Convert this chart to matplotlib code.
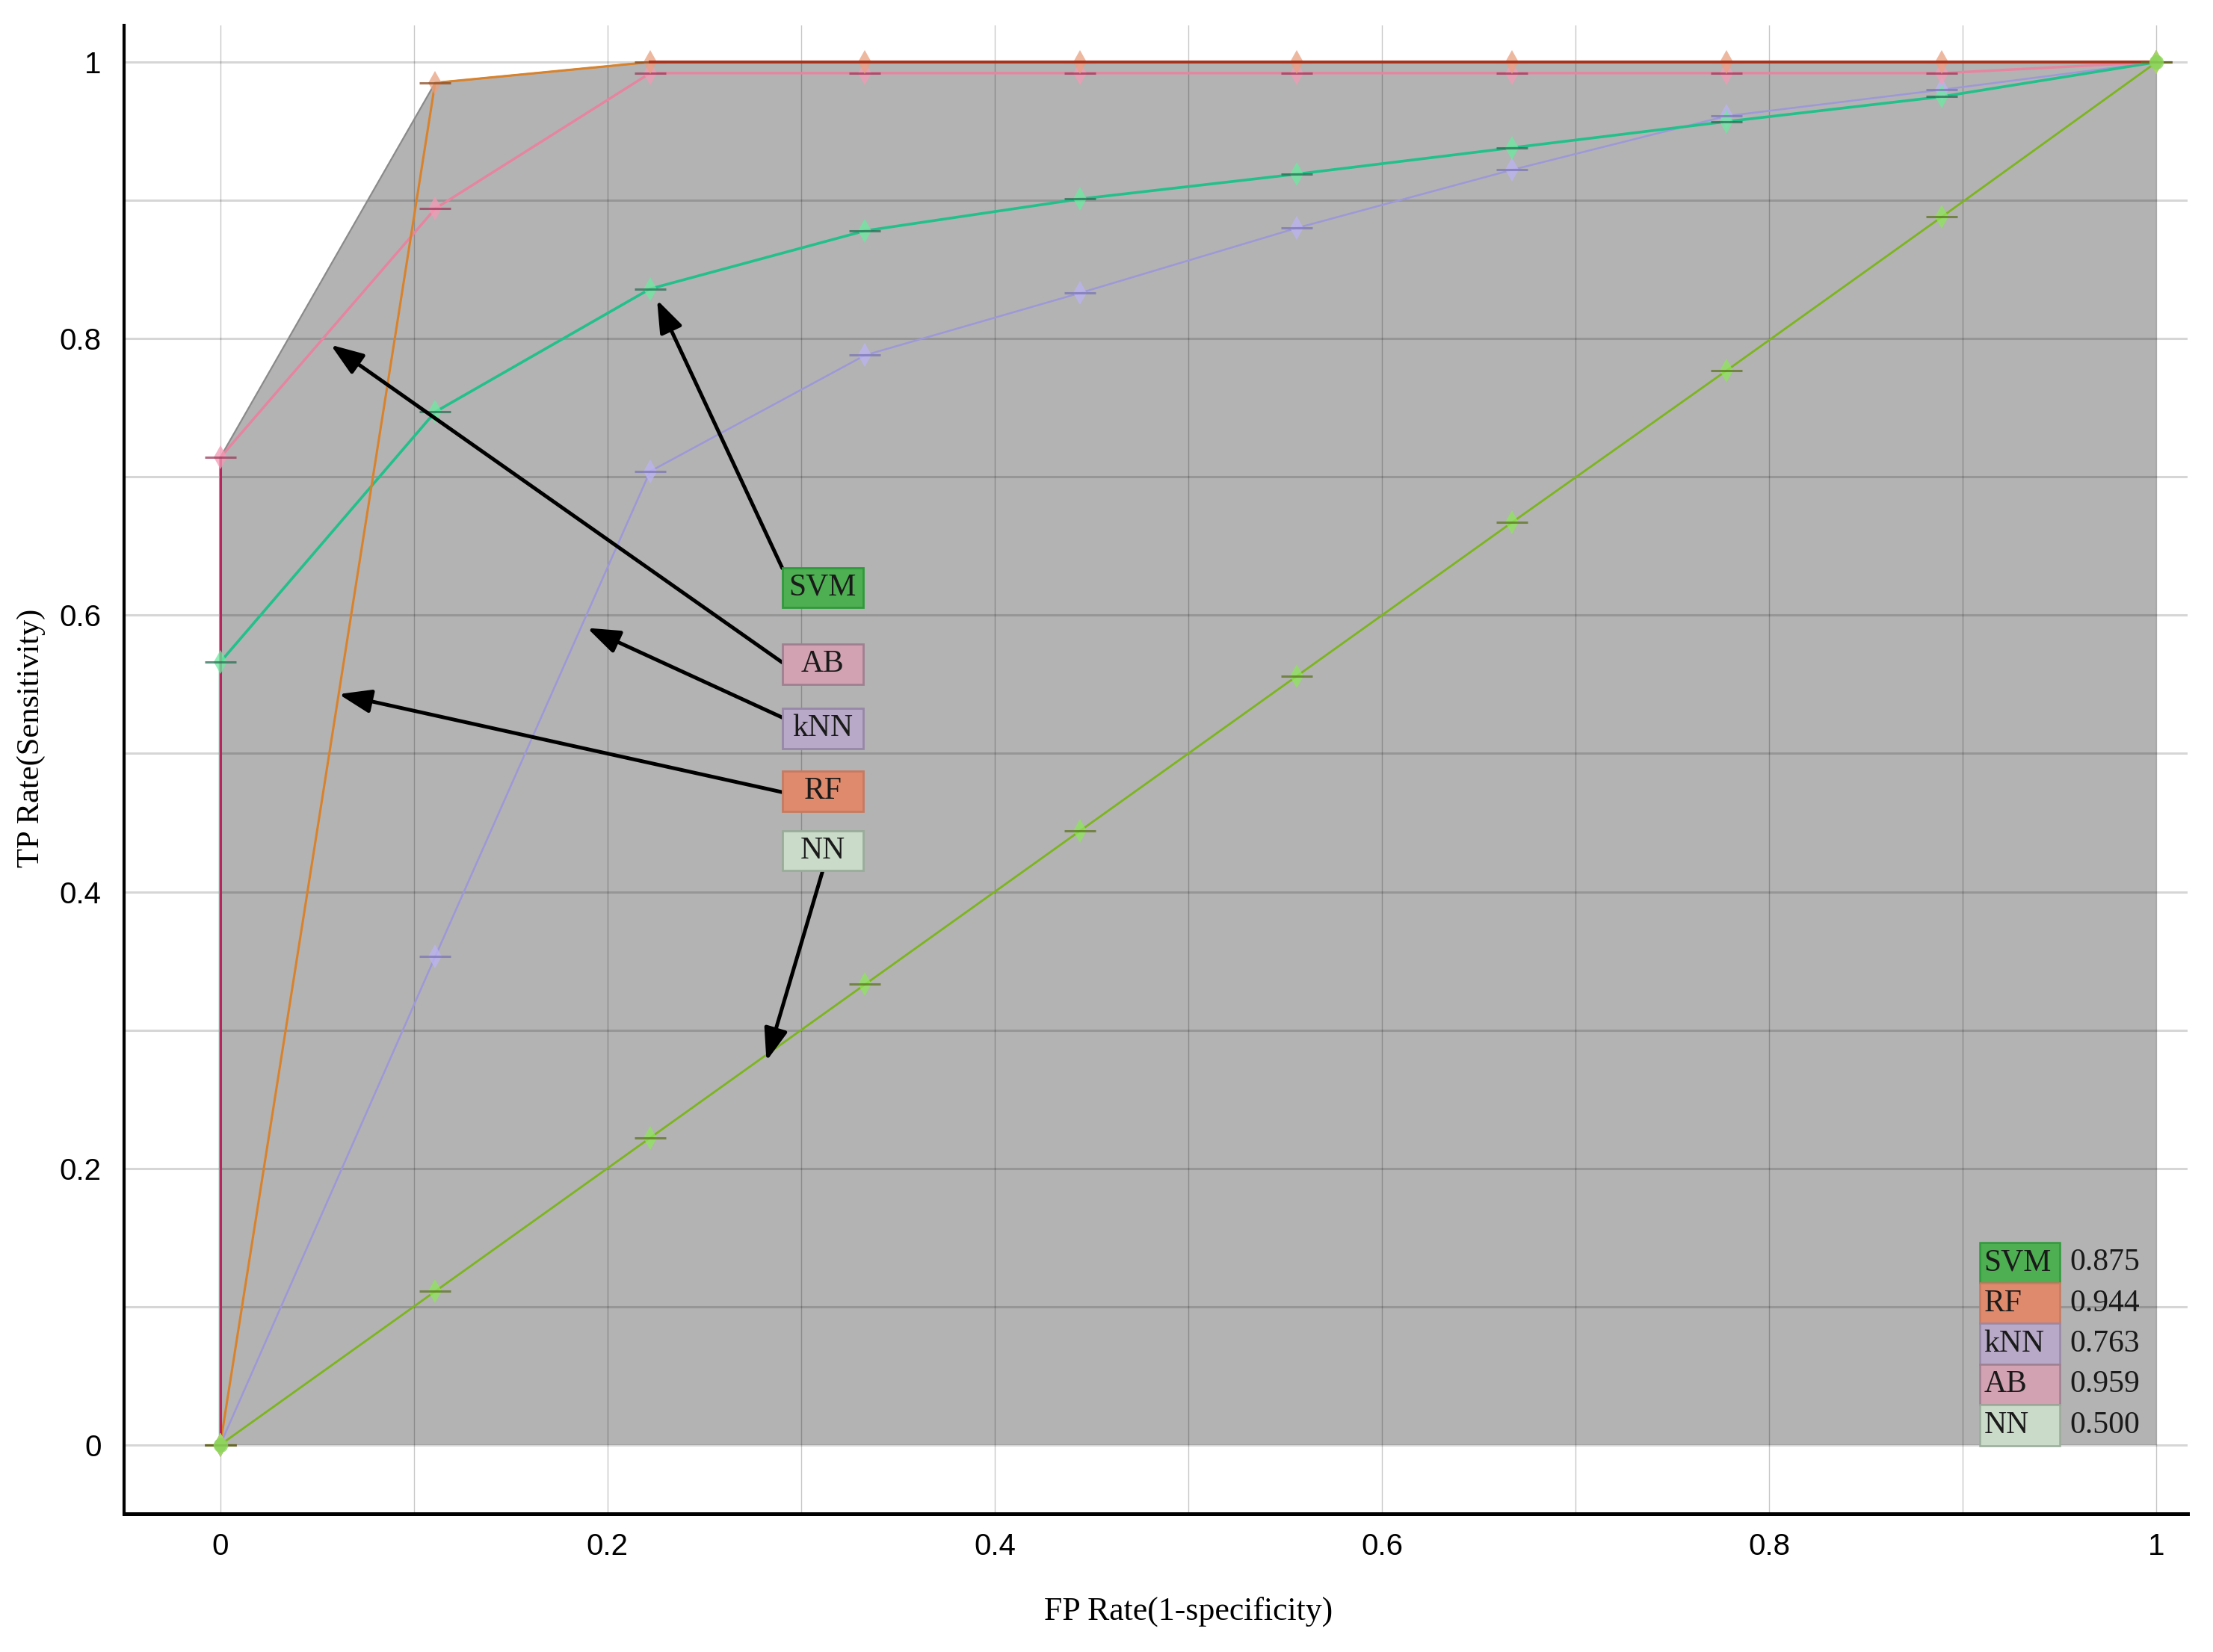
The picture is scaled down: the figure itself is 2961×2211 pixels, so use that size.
import numpy as np
import matplotlib
matplotlib.use("Agg")
import matplotlib.pyplot as plt
from matplotlib.patches import Rectangle

# ---------------- data ----------------
svm_fpr = [0.0, 0.0, 0.111, 0.222, 0.333, 0.444, 0.556, 0.667, 0.778, 0.889, 1.0]
svm_tpr = [0.0, 0.566, 0.747, 0.836, 0.878, 0.901, 0.919, 0.938, 0.957, 0.975, 1.0]

rf_fpr = [0.0, 0.111, 0.222, 0.333, 0.444, 0.556, 0.667, 0.778, 0.889, 1.0]
rf_tpr = [0.0, 0.985, 1.0, 1.0, 1.0, 1.0, 1.0, 1.0, 1.0, 1.0]

knn_fpr = [0.0, 0.111, 0.222, 0.333, 0.444, 0.556, 0.667, 0.778, 0.889, 1.0]
knn_tpr = [0.0, 0.353, 0.704, 0.788, 0.833, 0.880, 0.922, 0.961, 0.980, 1.0]

ab_fpr = [0.0, 0.0, 0.111, 0.222, 0.333, 0.444, 0.556, 0.667, 0.778, 0.889, 1.0]
ab_tpr = [0.0, 0.714, 0.894, 0.992, 0.992, 0.992, 0.992, 0.992, 0.992, 0.992, 1.0]

nn_fpr = [0.0, 0.111, 0.222, 0.333, 0.444, 0.556, 0.667, 0.778, 0.889, 1.0]
nn_tpr = [0.0, 0.111, 0.222, 0.333, 0.444, 0.556, 0.667, 0.777, 0.888, 1.0]

legend_names = ["SVM", "RF", "kNN", "AB", "NN"]
legend_auc = ["0.875", "0.944", "0.763", "0.959", "0.500"]

tick_values = [0, 0.2, 0.4, 0.6, 0.8, 1]
tick_labels = ["0", "0.2", "0.4", "0.6", "0.8", "1"]

# ---------------- styles ----------------
series = {
    "SVM": dict(x=svm_fpr, y=svm_tpr, line="#22c08a", dark="#2a6e55", light="#6ceaa0", lw=1.3, mz=2.3),
    "kNN": dict(x=knn_fpr, y=knn_tpr, line="#9d98d8", dark="#7b76b4", light="#bcb4f4", lw=0.9, mz=2.3),
    "AB":  dict(x=ab_fpr, y=ab_tpr, line="#e7849f", dark="#9a3a5a", light="#f49ab6", lw=1.2, mz=2.3),
    "RF":  dict(x=rf_fpr, y=rf_tpr, line="#d9822b", dark="#8a4a20", light="#e8a080", lw=1.1, mz=2.35),
    "NN":  dict(x=nn_fpr, y=nn_tpr, line="#7cb51c", dark="#5c7420", light="#8ee65a", lw=1.0, mz=2.5),
}
box_colors = {
    "SVM": ("#4eae52", "#2f9a3c"),
    "RF": ("#df8a6d", "#c87a60"),
    "kNN": ("#b7a9c7", "#9888a8"),
    "AB": ("#d2a2b2", "#a08090"),
    "NN": ("#cadcc9", "#9aac9a"),
}

SERIF = ["Liberation Serif", "DejaVu Serif"]
SANS = ["Liberation Sans", "DejaVu Sans"]

fig = plt.figure(figsize=(14.805, 11.055), dpi=200)
ax = fig.add_axes([0.0561, 0.0837, 0.9324, 0.9009])
ax.set_xlim(-0.0496, 1.016)
ax.set_ylim(-0.0498, 1.0265)

# ---- convex hull of all ROC points (upper hull) ----
pts = set()
for s in series.values():
    for px, py in zip(s["x"], s["y"]):
        pts.add((px, py))
pts = sorted(pts)

def cross(o, a, b):
    return (a[0] - o[0]) * (b[1] - o[1]) - (a[1] - o[1]) * (b[0] - o[0])

hull = []
for p in pts:
    while len(hull) >= 2 and cross(hull[-2], hull[-1], p) >= 0:
        hull.pop()
    hull.append(p)
hx = [p[0] for p in hull] + [hull[-1][0]]
hy = [p[1] for p in hull] + [0.0]
ax.fill(hx, hy, color="#b3b3b3", zorder=0.2, lw=0)
ax.plot([p[0] for p in hull], [p[1] for p in hull], color="#8a8a8a", lw=0.8, zorder=1.8)

# ---- grid ----
ax.set_axisbelow(True)
ax.set_xticks(tick_values)
ax.set_yticks(tick_values)
ax.set_xticklabels(tick_labels, fontfamily=SANS, fontsize=14.5)
ax.set_yticklabels(tick_labels, fontfamily=SANS, fontsize=14.5)
ax.set_xticks(np.arange(0, 1.01, 0.1), minor=True)
ax.set_yticks(np.arange(0, 1.01, 0.1), minor=True)
ax.tick_params(which="both", length=0)
ax.tick_params(axis="x", pad=9)
ax.tick_params(axis="y", pad=11)
ax.yaxis.grid(True, which="both", color="black", alpha=0.16, lw=1.1)
ax.xaxis.grid(True, which="both", color="black", alpha=0.22, lw=0.5)

for sp in ["top", "right"]:
    ax.spines[sp].set_visible(False)
ax.spines["left"].set_linewidth(1.5)
ax.spines["bottom"].set_linewidth(1.8)

# ---- curves ----
for name in ["NN", "kNN", "SVM", "AB", "RF"]:
    s = series[name]
    ax.plot(s["x"], s["y"], color=s["line"], lw=s["lw"], zorder=2)
    ax.plot(s["x"], s["y"], ls="none", marker="d", ms=8, color=s["light"], alpha=0.75,
            mew=0, zorder=s["mz"])
    ax.plot(s["x"], s["y"], ls="none", marker="_", ms=15, mew=1.1, color=s["dark"],
            alpha=0.75, zorder=s["mz"] + 0.01)
# AB initial vertical segment drawn darker, RF top segment in dark red
ax.plot(ab_fpr[:2], ab_tpr[:2], color="#b8245c", lw=1.1, zorder=2.1)
rf_top = [i for i, v in enumerate(rf_tpr) if v >= 1.0]
ax.plot([rf_fpr[i] for i in rf_top], [rf_tpr[i] for i in rf_top], color="#a8321c",
        lw=1.4, zorder=2.4)
# endpoint blobs of the NN (diagonal) curve
ax.plot([nn_fpr[0], nn_fpr[-1]], [nn_tpr[0], nn_tpr[-1]], ls="none", marker="o", ms=7,
        color="#8ad45a", alpha=0.8, mew=0, zorder=2.6)

# ---- labelled boxes with arrows ----
box_x0, box_w, box_h = 0.2903, 0.0418, 0.0290
box_centers = {"SVM": 0.620, "AB": 0.5644, "kNN": 0.518, "RF": 0.4726, "NN": 0.4298}
arrows = {
    "SVM": ((0.2903, 0.634), (0.2256, 0.828)),
    "AB": ((0.2903, 0.5658), (0.0571, 0.7955)),
    "kNN": ((0.2903, 0.526), (0.1895, 0.5908)),
    "RF": ((0.2903, 0.472), (0.0612, 0.5429)),
    "NN": ((0.311, 0.4145), (0.2821, 0.2776)),
}
for name, (tail, head) in arrows.items():
    ax.annotate("", xy=head, xytext=tail,
                arrowprops=dict(arrowstyle="-|>,head_length=0.55,head_width=0.2",
                                color="black", lw=1.8, mutation_scale=24,
                                shrinkA=0, shrinkB=0),
                zorder=4)
for name, cy in box_centers.items():
    fc, ec = box_colors[name]
    ax.add_patch(Rectangle((box_x0, cy - box_h / 2), box_w, box_h, facecolor=fc,
                           edgecolor=ec, lw=1.0, zorder=5))
    ax.text(box_x0 + box_w / 2, cy, name, ha="center", va="center", fontsize=15,
            fontfamily=SERIF, color="#1a1a1a", zorder=6)

# ---- AUC table (bottom right) ----
cell_x0, cell_w, row_h, top = 0.9088, 0.0414, 0.0294, 0.1465
for i, (name, auc) in enumerate(zip(legend_names, legend_auc)):
    y0 = top - (i + 1) * row_h
    fc, ec = box_colors[name]
    ax.add_patch(Rectangle((cell_x0, y0), cell_w, row_h, facecolor=fc, edgecolor=ec,
                           lw=0.9, zorder=5))
    ax.text(cell_x0 + 0.002, y0 + row_h / 2, name, ha="left", va="center", fontsize=15,
            fontfamily=SERIF, color="#1a1a1a", zorder=6)
    ax.text(0.955, y0 + row_h / 2, auc, ha="left", va="center", fontsize=15,
            fontfamily=SERIF, color="#1a1a1a", zorder=6)

# ---- axis titles ----
fig.text(1590 / 2961, 1 - 2157 / 2211, "FP Rate(1-specificity)", ha="center", va="center",
         fontsize=15.8, fontfamily=SERIF)
fig.text(41.5 / 2961, 1 - 988 / 2211, "TP Rate(Sensitivity)", ha="center", va="center",
         rotation=90, fontsize=15.3, fontfamily=SERIF)

fig.savefig("out.png", dpi=200, facecolor="white")
